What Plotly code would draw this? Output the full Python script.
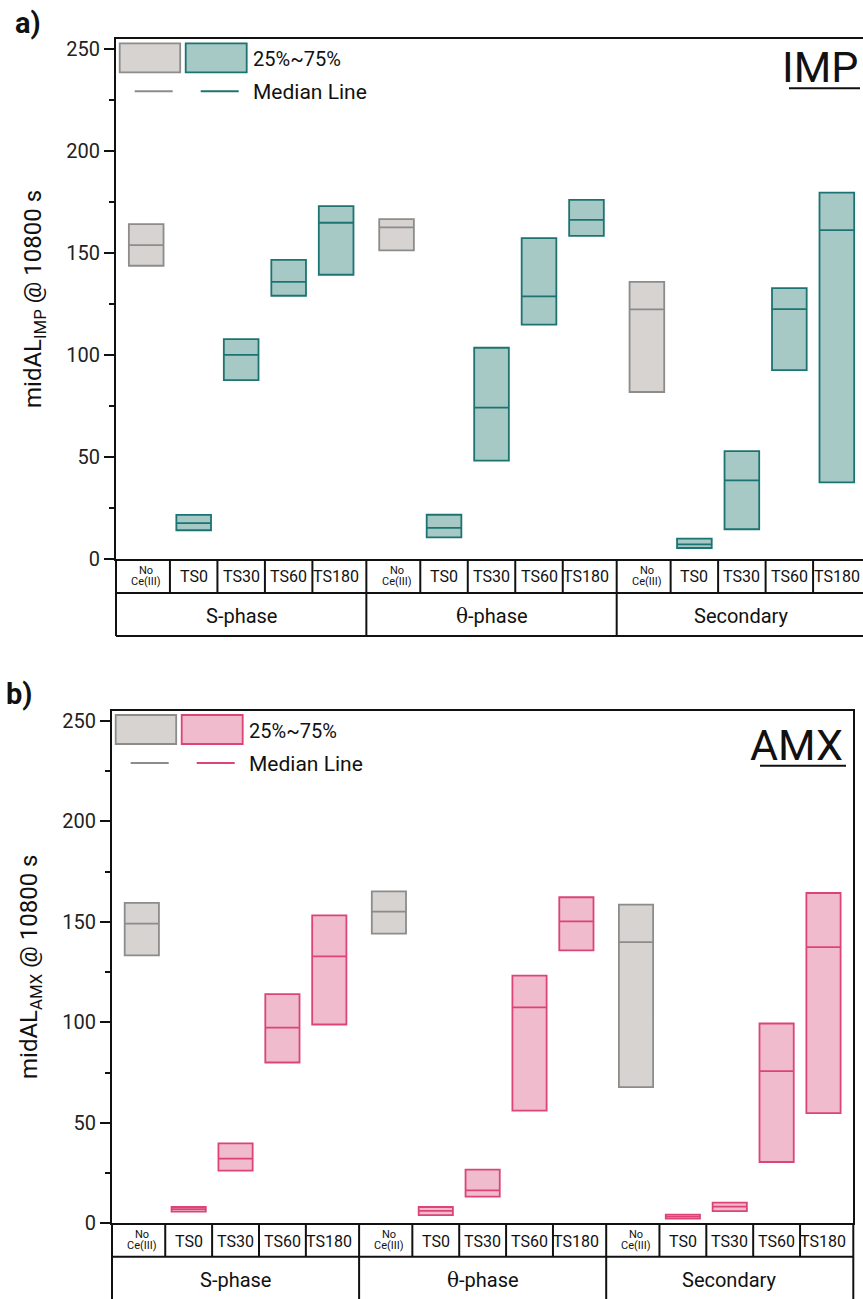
import plotly.graph_objects as go

# ---------------------------------------------------------------- data
GROUPS = ["S-phase", "θ-phase", "Secondary"]
TREATMENTS = ["No Ce(III)", "TS0", "TS30", "TS60", "TS180"]

# IMP: 25th percentile, median, 75th percentile (per group, per treatment)
IMP_Q1 = [143.8, 14.1, 87.7, 129.1, 139.4,
          151.3, 10.6, 48.2, 114.9, 158.5,
          81.9, 5.4, 14.6, 92.6, 37.6]
IMP_MED = [153.9, 17.6, 100.1, 135.9, 164.9,
           162.6, 15.3, 74.2, 128.8, 166.3,
           122.4, 7.2, 38.6, 122.5, 161.3]
IMP_Q3 = [164.2, 21.6, 107.8, 146.7, 173.0,
          166.7, 21.7, 103.6, 157.4, 176.1,
          135.9, 10.0, 52.9, 132.8, 179.7]

# AMX: 25th percentile, median, 75th percentile
AMX_Q1 = [133.3, 5.8, 26.2, 80.0, 98.9,
          144.1, 4.1, 13.3, 56.1, 135.8,
          67.7, 2.3, 6.1, 30.5, 54.8]
AMX_MED = [149.1, 7.1, 32.2, 97.3, 132.8,
           155.0, 6.2, 16.4, 107.4, 150.2,
           139.9, 3.3, 8.3, 75.7, 137.4]
AMX_Q3 = [159.4, 8.1, 39.8, 114.0, 153.2,
          165.1, 8.1, 26.7, 123.2, 162.2,
          158.5, 4.3, 10.3, 99.4, 164.3]

Y_TICKS = [0, 50, 100, 150, 200, 250]

# ---------------------------------------------------------------- styling
W, H = 863, 1299
FONT = "Roboto, 'Liberation Sans', sans-serif"
INK = "#111111"
GREY_FILL, GREY_EDGE = "#d6d3d0", "#8c8c8c"
TEAL_FILL, TEAL_EDGE = "#a7c9c6", "#1b7472"
PINK_FILL, PINK_EDGE = "#f0bbcc", "#dc4478"

PAD = 0.636                 # space between the outer boxes and a group edge
SPAN = 4 + 2 * PAD          # width of one group on the x axis
BOX_W = 0.73


def px(x):
    return x / W


def py(y):
    return 1 - y / H


def positions():
    return [g * SPAN + i for g in range(len(GROUPS)) for i in range(len(TREATMENTS))]


def group_label(name):
    # the Greek letter is set in a serif face
    if name.startswith("θ"):
        return "<span style=\"font-family:'DejaVu Serif'\">θ</span>" + name[1:]
    return name


POS = positions()

fig = go.Figure()


def add_panel(xr, yr, q1, med, q3, fill, edge):
    n_t = len(TREATMENTS)
    ctrl = [k for k in range(len(POS)) if k % n_t == 0]
    trt = [k for k in range(len(POS)) if k % n_t != 0]
    for idx, f, e in ((ctrl, GREY_FILL, GREY_EDGE), (trt, fill, edge)):
        fig.add_trace(go.Bar(
            x=[POS[k] for k in idx],
            y=[q3[k] - q1[k] for k in idx],
            base=[q1[k] for k in idx],
            width=BOX_W,
            marker=dict(color=f, line=dict(color=e, width=1.8)),
            xaxis=xr, yaxis=yr, showlegend=False,
        ))
        mx, my = [], []
        for k in idx:
            mx += [POS[k] - BOX_W / 2, POS[k] + BOX_W / 2, None]
            my += [med[k], med[k], None]
        fig.add_trace(go.Scatter(
            x=mx, y=my, mode="lines", line=dict(color=e, width=1.8),
            xaxis=xr, yaxis=yr, showlegend=False, hoverinfo="skip",
        ))


add_panel("x", "y", IMP_Q1, IMP_MED, IMP_Q3, TEAL_FILL, TEAL_EDGE)
add_panel("x2", "y2", AMX_Q1, AMX_MED, AMX_Q3, PINK_FILL, PINK_EDGE)

# ---------------------------------------------------------------- axes
panels = [
    # axes, plot box in pixels (left, top, right, bottom), table row edges
    dict(xa="xaxis", ya="yaxis", xr="x", yr="y", box=(116, 39, 863, 559), rows=(593, 636),
         xend=3 * SPAN - PAD - 0.085, mirror_y=False,
         fill=TEAL_FILL, edge=TEAL_EDGE,
         title="midAL<sub>IMP</sub> @ 10800 s"),
    dict(xa="xaxis2", ya="yaxis2", xr="x2", yr="y2", box=(112, 710.7, 853.3, 1223.3),
         rows=(1256.7, H + 3), xend=3 * SPAN - PAD, mirror_y=True,
         fill=PINK_FILL, edge=PINK_EDGE,
         title="midAL<sub>AMX</sub> @ 10800 s"),
]

shapes, annotations = [], []
for p in panels:
    l, t, r, b = p["box"]
    xr, yr = p["xr"], p["yr"]
    fig.layout[p["xa"]] = dict(
        domain=[px(l), min(px(r), 1.0)], range=[-PAD, p["xend"]], anchor=yr,
        showline=True, linecolor=INK, linewidth=2, mirror=True, automargin=False,
        showticklabels=False, ticks="", showgrid=False, zeroline=False,
    )
    fig.layout[p["ya"]] = dict(
        domain=[py(b), py(t)], range=[0, 255], anchor=xr, automargin=False,
        showline=True, linecolor=INK, linewidth=2, mirror=p["mirror_y"],
        tickvals=Y_TICKS, ticks="outside", ticklen=10, tickwidth=2, tickcolor=INK,
        minor=dict(dtick=25, ticks="outside", ticklen=5, tickwidth=1.5, tickcolor=INK),
        tickfont=dict(family=FONT, size=20, color="#222222"),
        showgrid=False, zeroline=False,
    )

    # category table below the x axis
    r1, r2 = p["rows"]
    line = dict(color=INK, width=2)
    for yy in (r1, r2):
        shapes.append(dict(type="line", xref=xr + " domain", yref="paper",
                           x0=0, x1=1, y0=py(yy), y1=py(yy), line=line))
    shapes.append(dict(type="line", xref=xr + " domain", yref="paper",
                       x0=0, x1=0, y0=py(r2), y1=py(b), line=line))
    if p["mirror_y"]:
        shapes.append(dict(type="line", xref=xr + " domain", yref="paper",
                           x0=1, x1=1, y0=py(r2), y1=py(b), line=line))
    for g in range(len(GROUPS)):
        start = g * SPAN - PAD
        if g > 0:
            shapes.append(dict(type="line", xref=xr, yref="paper",
                               x0=start, x1=start, y0=py(r2), y1=py(b), line=line))
        for i in range(len(TREATMENTS) - 1):
            xb = g * SPAN + i + 0.5
            shapes.append(dict(type="line", xref=xr, yref="paper",
                               x0=xb, x1=xb, y0=py(r1), y1=py(b), line=line))
        # group label
        gy = (r1 + r2) / 2 + 1 if r2 < H else r1 + 23
        annotations.append(dict(
            xref=xr, yref="paper", x=g * SPAN + 2, y=py(gy),
            text=group_label(GROUPS[g]), showarrow=False, xanchor="center", yanchor="middle",
            font=dict(family=FONT, size=20, color=INK)))
        # treatment labels
        mid1 = (b + r1) / 2
        for i, name in enumerate(TREATMENTS):
            xc = g * SPAN + i
            if name.startswith("No "):
                annotations.append(dict(
                    xref=xr, yref="paper", x=xc, y=py(mid1 - 5.5), text="No",
                    showarrow=False, xanchor="center", yanchor="middle",
                    font=dict(family=FONT, size=11, color=INK)))
                annotations.append(dict(
                    xref=xr, yref="paper", x=xc, y=py(mid1 + 5.5), text=name[3:],
                    showarrow=False, xanchor="center", yanchor="middle",
                    font=dict(family=FONT, size=11, color=INK)))
            else:
                annotations.append(dict(
                    xref=xr, yref="paper", x=xc, y=py(mid1 + 1), text=name,
                    showarrow=False, xanchor="center", yanchor="middle",
                    font=dict(family=FONT, size=16, color=INK)))

    # in-plot legend (box = 25%~75%, line = median)
    lx = l + 3.7
    ly = t + 4.3
    shapes.append(dict(type="rect", xref="paper", yref="paper",
                       x0=px(lx), x1=px(lx + 60.5), y0=py(ly), y1=py(ly + 29),
                       fillcolor=GREY_FILL, line=dict(color=GREY_EDGE, width=1.8)))
    shapes.append(dict(type="rect", xref="paper", yref="paper",
                       x0=px(lx + 66), x1=px(lx + 127), y0=py(ly), y1=py(ly + 29),
                       fillcolor=p["fill"], line=dict(color=p["edge"], width=1.8)))
    shapes.append(dict(type="line", xref="paper", yref="paper",
                       x0=px(lx + 15), x1=px(lx + 53), y0=py(ly + 48), y1=py(ly + 48),
                       line=dict(color=GREY_EDGE, width=2)))
    shapes.append(dict(type="line", xref="paper", yref="paper",
                       x0=px(lx + 81), x1=px(lx + 119), y0=py(ly + 48), y1=py(ly + 48),
                       line=dict(color=p["edge"], width=2)))
    annotations.append(dict(xref="paper", yref="paper", x=px(lx + 131), y=py(ly + 16),
                            text="25%~75%", showarrow=False, xanchor="left", yanchor="middle",
                            font=dict(family=FONT, size=20, color=INK)))
    annotations.append(dict(xref="paper", yref="paper", x=px(lx + 131), y=py(ly + 49),
                            text="Median Line", showarrow=False, xanchor="left", yanchor="middle",
                            font=dict(family=FONT, size=21, color=INK)))

    # y axis title
    annotations.append(dict(xref="paper", yref="paper", x=px(l - 82), y=py((t + b) / 2),
                            text=p["title"], textangle=-90, showarrow=False,
                            xanchor="center", yanchor="middle",
                            font=dict(family=FONT, size=24, color=INK)))

# panel tags with underline and panel letters
tags = [("IMP", 860, 67.5, 789, 860, 88.3, "a)", 13, 23),
        ("AMX", 845, 745.0, 760, 846, 765.7, "b)", 4, 694)]
for tag, tx, ty, u0, u1, uy, letter, lxp, lyp in tags:
    annotations.append(dict(xref="paper", yref="paper", x=px(tx), y=py(ty), text=tag,
                            showarrow=False, xanchor="right", yanchor="middle",
                            font=dict(family=FONT, size=43, color=INK)))
    shapes.append(dict(type="line", xref="paper", yref="paper",
                       x0=px(u0), x1=px(u1), y0=py(uy), y1=py(uy),
                       line=dict(color=INK, width=2)))
    annotations.append(dict(xref="paper", yref="paper", x=px(lxp), y=py(lyp),
                            text="<b>" + letter + "</b>",
                            showarrow=False, xanchor="left", yanchor="middle",
                            font=dict(family=FONT, size=29, color=INK)))

fig.update_layout(
    width=W, height=H, autosize=False,
    margin=dict(l=0, r=0, t=0, b=0, pad=0, autoexpand=False),
    paper_bgcolor="white", plot_bgcolor="white",
    barmode="overlay", showlegend=False,
    shapes=shapes, annotations=annotations,
)

# page chrome: let the figure fill the window exactly
PAGE_CSS = ("document.documentElement.style.margin='0';"
            "document.body.style.margin='0';"
            "document.body.style.overflow='hidden';")
fig.write_html("out.html", post_script=PAGE_CSS)
